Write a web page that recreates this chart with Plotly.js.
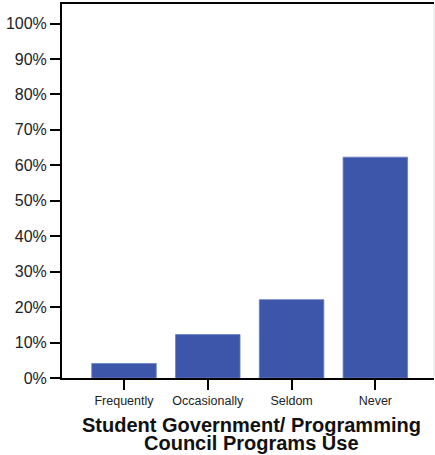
<!DOCTYPE html>
<html><head><meta charset="utf-8">
<script src="https://cdn.plot.ly/plotly-3.0.1.min.js"></script>
<style>html,body{margin:0;padding:0;background:#fff;}</style>
</head><body><div id="chart" style="width:435px;height:455px;"></div>
<script>
const categories = ["Frequently", "Occasionally", "Seldom", "Never"];
const percents = [0.041, 0.1225, 0.221, 0.623];
const yTickVals = [0, 0.1, 0.2, 0.3, 0.4, 0.5, 0.6, 0.7, 0.8, 0.9, 1.0];
const yTickText = ["0%", "10%", "20%", "30%", "40%", "50%", "60%", "70%", "80%", "90%", "100%"];
const xTitleLines = ["Student Government/ Programming", "Council Programs Use"];

const font = "Liberation Sans, Arial, sans-serif";
Plotly.newPlot("chart", [{
  type: "bar", x: categories, y: percents,
  marker: {color: "#3e56a9", line: {color: "#6a7fc4", width: 0.8}},
  width: 0.77, hoverinfo: "skip"
}], {
  width: 435, height: 455,
  margin: {l: 62, r: 1, t: 4, b: 77},
  paper_bgcolor: "#fff", plot_bgcolor: "#fff",
  showlegend: false,
  font: {family: font, color: "#000"},
  xaxis: {
    range: [-0.74, 3.70], showgrid: false, zeroline: false,
    showline: true, linecolor: "#000", linewidth: 2, mirror: true,
    ticks: "outside", ticklen: 10, tickwidth: 2, tickcolor: "#000",
    tickfont: {size: 12.5, family: font, color: "#222"}
  },
  yaxis: {
    range: [0, 1.055], showgrid: false, zeroline: false,
    showline: true, linecolor: "#000", linewidth: 2,
    ticks: "outside", ticklen: 10, tickwidth: 2, tickcolor: "#000",
    tickvals: yTickVals, ticktext: yTickText,
    tickfont: {size: 16, family: font, color: "#222"}
  },
  annotations: xTitleLines.map((t, i) => ({
    text: "<b>" + t + "</b>", xref: "paper", yref: "paper", x: 0.5, y: 0,
    xanchor: "center", yanchor: "middle", xshift: 3, yshift: -47 - 18 * i,
    showarrow: false, font: {size: 20, family: font, color: "#111"}
  })),
  shapes: [{type: "line", xref: "paper", yref: "paper", x0: 1, x1: 1, y0: 0, y1: 1,
            line: {color: "#e4e4e4", width: 1}}]
}, {displayModeBar: false, staticPlot: true});
</script></body></html>
